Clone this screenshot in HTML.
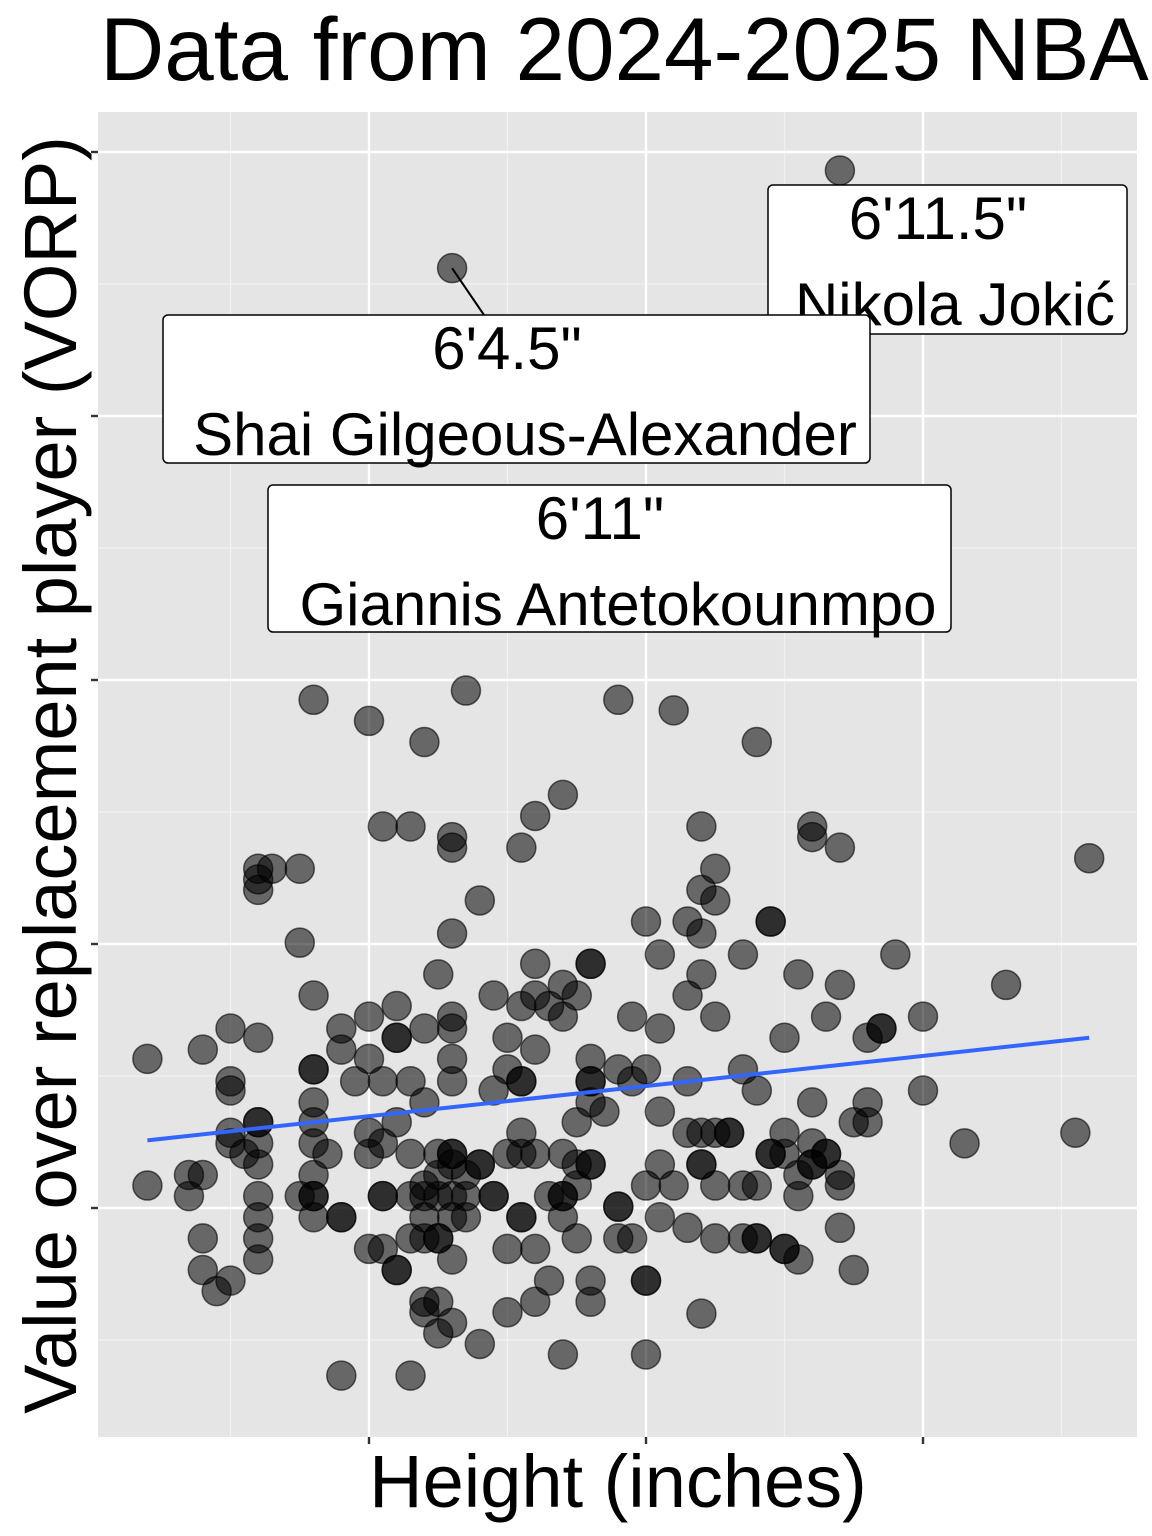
<!DOCTYPE html>
<html><head><meta charset="utf-8"><style>
html,body{margin:0;padding:0;background:#fff;}
svg{display:block;font-family:"Liberation Sans",Arial,sans-serif;}
</style></head><body>
<svg id="chart" width="1152" height="1536" viewBox="0 0 1152 1536" xmlns="http://www.w3.org/2000/svg">
<text x="100" y="80" font-size="89" fill="#000">Data from 2024-2025 NBA</text>
<rect x="98" y="112" width="1039" height="1325" fill="#e5e5e5"/>
<g id="grid"></g>
<g id="points"></g>
<g id="labels"></g>
<text x="618" y="1507" font-size="74" text-anchor="middle" fill="#000">Height (inches)</text>
<text transform="translate(76,775) rotate(-90)" font-size="74" text-anchor="middle" fill="#000">Value over replacement player (VORP)</text>
</svg>
<script>
const heights=[71,71,71.75,71.75,72,72,72,72,72.25,72.5,72.5,72.5,72.5,72.5,72.75,73,73,73,73,73,73,73,73,73,73,73.25,73.75,73.75,73.75,74,74,74,74,74,74,74,74,74,74.25,74.5,74.5,74.5,74.5,74.75,75,75,75,75,75,75,75.25,75.25,75.25,75.25,75.25,75.5,75.5,75.5,75.5,75.75,75.75,75.75,75.75,76,76,76,76,76,76,76,76.25,76.25,76.25,76.25,76.25,76.5,76.5,76.5,76.5,76.5,76.5,76.5,76.5,76.5,76.5,76.5,76.5,76.75,76.75,77,77,77,77.25,77.25,77.25,77.5,77.5,77.5,77.5,77.75,77.75,77.75,77.75,77.75,77.75,78,78,78,78,78,78,78.25,78.25,78.5,78.5,78.5,78.5,78.5,78.5,78.75,78.75,78.75,79,79,79,79,79,79,79.25,79.5,79.5,79.5,79.5,79.75,79.75,79.75,80,80,80,80,80,80.25,80.25,80.25,80.25,80.25,80.5,80.5,80.75,80.75,80.75,80.75,80.75,81,81,81,81,81,81,81.25,81.25,81.25,81.25,81.25,81.5,81.75,81.75,81.75,82,82,82,82.25,82.25,82.5,82.5,82.5,82.75,82.75,82.75,83,83,83,83,83.25,83.25,83.5,83.5,83.5,83.5,83.75,83.75,84,84,84.25,84.5,85,85,85.75,86.5,87.75,88,
76,76,76.25,76.25,76.5,76.75,77,76.25,75.75,75.25,75.5,75.5,74,74,73,74.5,77.75,77.75,78.25,78.5,78.5,78.75,78.75,79,79,79,79,79.5,80,81,81,81.25,81.5,82,82.25,82.25,82.5,83,84.25,77.5,78,77.25,76.75,75.75,76.5,
82.5,82.75,83,83.25,81.75,82,84,83.5,72.5,73,
76.5,83.5,83];
const vorps=[1.13,0.17,0.25,0.09,0.25,1.20,-0.23,-0.47,-0.63,1.36,0.96,0.89,0.49,-0.55,0.41,2.57,2.49,2.41,1.29,0.65,0.33,0.09,-0.07,-0.23,-0.39,2.57,2.57,2.01,0.09,3.85,1.61,1.05,0.80,0.65,0.49,0.25,0.09,-0.07,0.41,1.36,1.20,-0.07,-1.27,0.96,3.69,1.45,1.13,0.57,0.41,-0.31,2.89,0.96,0.49,0.09,-0.31,1.53,1.29,0.65,-0.47,2.89,0.96,0.41,-1.27,3.53,1.36,0.80,0.09,-0.23,-0.71,-0.79,1.77,0.41,-0.23,-0.95,-0.71,2.81,2.73,2.08,1.45,1.36,1.13,0.96,0.41,0.09,-0.07,-0.39,-0.87,3.92,0.25,2.33,0.33,-1.03,1.61,0.89,0.09,1.29,1.05,-0.31,-0.79,2.73,1.53,0.96,0.57,0.41,-0.07,2.97,1.85,1.61,1.20,-0.31,-0.71,1.53,-0.55,3.13,1.69,1.45,0.41,0.09,-1.11,1.61,0.65,-0.23,1.85,1.13,0.96,0.33,-0.55,-0.71,0.73,3.85,1.05,0.01,-0.23,1.45,0.96,-0.23,2.17,1.05,0.17,-0.55,-1.11,1.92,1.36,0.73,0.33,-0.07,3.77,0.17,2.17,1.61,0.96,0.57,-0.15,2.89,2.41,2.08,1.77,0.33,-0.80,2.57,2.33,1.45,0.57,-0.23,0.57,1.92,1.05,0.17,3.53,0.89,-0.23,2.17,0.41,1.29,0.57,-0.31,1.77,0.09,-0.39,2.89,2.81,0.80,0.33,1.45,0.41,2.73,1.69,0.17,-0.15,0.65,-0.47,1.29,0.80,1.36,1.92,1.45,0.89,0.49,1.69,0.57,2.65,
0.17,-0.07,0.09,-0.23,0.33,0.09,0.33,0.25,0.09,0.09,1.29,-0.47,1.05,0.09,0.65,-0.07,0.96,-0.07,0.09,0.09,-0.07,0.17,0.33,1.85,0.33,0.96,0.80,0.01,-0.55,0.57,0.33,0.17,0.57,-0.23,0.41,2.17,-0.31,0.33,1.36,0.41,0.41,0.09,-0.07,-0.23,0.41,
0.41,0.25,0.49,0.41,-0.23,0.17,0.65,0.25,0.57,0.49,
7.12,7.86,5.29];
const xTicks=[75,80,85];
const xMinor=[72.5,77.5,82.5,87.5];
const yTicks=[0,2,4,6,8];
const yMinor=[-1,1,3,5,7];
const labelHeights=["6'11.5\"","6'4.5\"","6'11\""];
const labelNames=["Nikola Jokić","Shai Gilgeous-Alexander","Giannis Antetokounmpo"];

const NS="http://www.w3.org/2000/svg";
const xs=h=>369+(h-75)*55.4;
const ys=v=>1208-v*132;
function mk(tag,attrs,parent){const e=document.createElementNS(NS,tag);for(const k in attrs)e.setAttribute(k,attrs[k]);parent.appendChild(e);return e;}
const grid=document.getElementById('grid');
xMinor.forEach(h=>{const l=mk('line',{x1:xs(h),x2:xs(h),y1:112,y2:1437,stroke:'#f2f2f2','stroke-width':1.2},grid);

});
yMinor.forEach(v=>{const l=mk('line',{x1:98,x2:1137,y1:ys(v),y2:ys(v),stroke:'#f2f2f2','stroke-width':1.2},grid);

});
xTicks.forEach(h=>{const l=mk('line',{x1:xs(h),x2:xs(h),y1:112,y2:1437,stroke:'#fff','stroke-width':2.4},grid);


const t=mk('line',{x1:xs(h),x2:xs(h),y1:1437,y2:1444,stroke:'#333','stroke-width':2.4},grid);

});
yTicks.forEach(v=>{const l=mk('line',{x1:98,x2:1137,y1:ys(v),y2:ys(v),stroke:'#fff','stroke-width':2.4},grid);


const t=mk('line',{x1:91,x2:98,y1:ys(v),y2:ys(v),stroke:'#333','stroke-width':2.4},grid);

});
const pts=document.getElementById('points');
heights.forEach((h,i)=>{const c=mk('circle',{cx:xs(h),cy:ys(vorps[i]),r:14.5,fill:'rgba(0,0,0,0.55)',stroke:'rgba(0,0,0,0.6)','stroke-width':1.5},pts);

});
// regression
const n=heights.length;let mx=0,my=0;heights.forEach((h,i)=>{mx+=h;my+=vorps[i];});mx/=n;my/=n;
let sxy=0,sxx=0;heights.forEach((h,i)=>{sxy+=(h-mx)*(vorps[i]-my);sxx+=(h-mx)*(h-mx);});
const b=sxy/sxx,a=my-b*mx;const hmin=Math.min(...heights),hmax=Math.max(...heights);
const reg=mk('line',{x1:xs(hmin),y1:ys(a+b*hmin),x2:xs(hmax),y2:ys(a+b*hmax),stroke:'#3366ff','stroke-width':4},pts);


// labels
const lab=document.getElementById('labels');
const seg=mk('line',{x1:xs(76.5),y1:ys(7.12),x2:484,y2:315,stroke:'#000','stroke-width':2},lab);


const boxes=[[768,185,359,149,938,955],[163,315,707,148,507,525],[268,485,683,147,600,618]];
boxes.forEach((bx,i)=>{const g=mk('g',{},lab);


mk('rect',{x:bx[0],y:bx[1],width:bx[2],height:bx[3],rx:5,fill:'#fff',stroke:'#000','stroke-width':1.5},g);
const t1=mk('text',{x:bx[4],y:bx[1]+54,'font-size':60,'text-anchor':'middle',fill:'#000'},g);t1.textContent=labelHeights[i];
const t2=mk('text',{x:bx[5],y:bx[1]+140,'font-size':60,'text-anchor':'middle',fill:'#000'},g);t2.textContent=labelNames[i];
});
</script>
</body></html>
